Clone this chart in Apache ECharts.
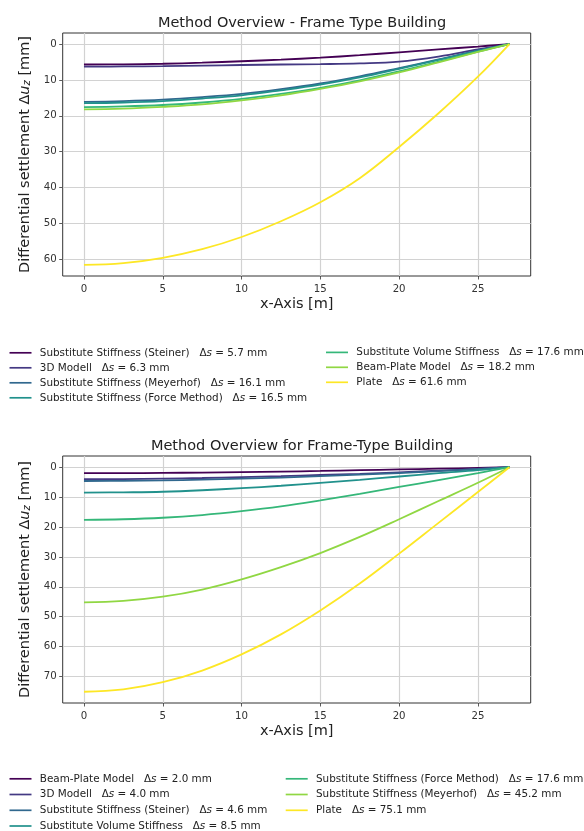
<!DOCTYPE html>
<html>
<head>
<meta charset="utf-8">
<script src="https://cdn.jsdelivr.net/npm/echarts@6/dist/echarts.min.js"></script>
<style>html,body{margin:0;padding:0;background:#fff}#c{width:584px;height:831px}</style>
</head>
<body>
<div id="c"></div>
<script>
// ---------- data ----------
const xs = [0, 2.5, 5, 7.5, 10, 12.5, 15, 17.5, 20, 22.5, 25, 27];
const xTicks = [0, 5, 10, 15, 20, 25];
const yTicksTop = [0, 10, 20, 30, 40, 50, 60];
const yTicksBottom = [0, 10, 20, 30, 40, 50, 60, 70];
const colors = ['#440154', '#443983', '#31688e', '#21918c', '#35b779', '#90d743', '#fde725'];

const titleTop = 'Method Overview - Frame Type Building';
const titleBottom = 'Method Overview for Frame-Type Building';

// top chart
const namesTop = ['Substitute Stiffness (Steiner)', '3D Modell', 'Substitute Stiffness (Meyerhof)',
  'Substitute Stiffness (Force Method)', 'Substitute Volume Stiffness', 'Beam-Plate Model', 'Plate'];
const deltaTop = ['5.7', '6.3', '16.1', '16.5', '17.6', '18.2', '61.6'];
const topSteiner  = [5.7, 5.65, 5.5, 5.2, 4.8, 4.35, 3.8, 3.1, 2.3, 1.5, 0.7, 0];
const top3D       = [6.3, 6.25, 6.15, 6.0, 5.85, 5.7, 5.6, 5.4, 4.9, 3.5, 1.5, 0];
const topMeyerhof = [16.1, 15.9, 15.5, 14.8, 13.9, 12.6, 11.0, 9.0, 6.7, 4.3, 1.8, 0];
const topForce    = [16.5, 16.3, 15.9, 15.2, 14.3, 12.9, 11.3, 9.3, 6.9, 4.4, 1.9, 0];
const topVolume   = [17.6, 17.4, 17.0, 16.3, 15.3, 13.9, 12.2, 10.1, 7.6, 4.9, 2.1, 0];
const topBeam     = [18.2, 18.0, 17.5, 16.8, 15.7, 14.3, 12.5, 10.4, 7.9, 5.1, 2.2, 0];
const topPlate    = [61.6, 61.1, 59.6, 57.2, 53.8, 49.4, 44.1, 37.4, 28.7, 19.3, 9.1, 0];

// bottom chart
const namesBottom = ['Beam-Plate Model', '3D Modell', 'Substitute Stiffness (Steiner)',
  'Substitute Volume Stiffness', 'Substitute Stiffness (Force Method)', 'Substitute Stiffness (Meyerhof)', 'Plate'];
const deltaBottom = ['2.0', '4.0', '4.6', '8.5', '17.6', '45.2', '75.1'];
const botBeam     = [2.0, 2.0, 1.9, 1.8, 1.65, 1.45, 1.25, 1.0, 0.75, 0.5, 0.25, 0];
const bot3D       = [4.0, 3.95, 3.8, 3.6, 3.3, 3.0, 2.6, 2.2, 1.7, 1.15, 0.55, 0];
const botSteiner  = [4.6, 4.55, 4.4, 4.15, 3.8, 3.45, 3.0, 2.5, 1.95, 1.3, 0.6, 0];
const botVolume   = [8.5, 8.4, 8.2, 7.7, 7.0, 6.2, 5.2, 4.2, 3.1, 2.0, 1.0, 0];
const botForce    = [17.6, 17.4, 16.9, 16.0, 14.7, 13.1, 11.1, 8.9, 6.6, 4.3, 2.0, 0];
const botMeyerhof = [45.2, 44.7, 43.3, 40.9, 37.5, 33.4, 28.7, 23.3, 17.4, 11.3, 5.2, 0];
const botPlate    = [75.1, 74.3, 71.9, 68.0, 62.6, 55.9, 47.9, 38.9, 28.9, 18.6, 8.3, 0];

const topSeriesData = [topSteiner, top3D, topMeyerhof, topForce, topVolume, topBeam, topPlate];
const botSeriesData = [botBeam, bot3D, botSteiner, botVolume, botForce, botMeyerhof, botPlate];

// ---------- chart ----------
const FONT = 'DejaVu Sans';
const TXT = '#222';
const chart = echarts.init(document.getElementById('c'), null, {renderer: 'canvas'});

function key(n, d) { return n + '|' + d; }
const keysTop = namesTop.map((n, i) => key(n, deltaTop[i]));
const keysBot = namesBottom.map((n, i) => key(n, deltaBottom[i]));

function xAxisCfg(gi) {
  return {
    type: 'value', gridIndex: gi, min: -1.35, max: 28.35, position: 'bottom',
    name: 'x-Axis [m]', nameLocation: 'middle', nameGap: 21,
    nameTextStyle: {fontFamily: FONT, fontSize: 14.5, color: TXT},
    axisLine: {show: false, onZero: false},
    axisTick: {show: true, length: 3.5, lineStyle: {color: '#333', width: 0.8}, customValues: xTicks},
    axisLabel: {fontFamily: FONT, fontSize: 10.2, color: '#333', margin: 8, customValues: xTicks},
    splitLine: {show: true, lineStyle: {color: '#d2d2d2', width: 1.2}}
  };
}
function yAxisCfg(gi, maxV, ticks) {
  const m = maxV * 0.05;
  return {
    type: 'value', gridIndex: gi, inverse: true, min: -m, max: maxV + m, position: 'left',
    name: 'Differential settlement {d|Δ}{i|u}{sub|z} [mm]',
    nameLocation: 'middle', nameRotate: 90, nameGap: 19,
    nameTextStyle: {fontFamily: FONT, fontSize: 14.5, color: TXT,
      rich: {
        d: {fontFamily: FONT, fontSize: 14.5, color: TXT},
        i: {fontFamily: FONT, fontSize: 14.5, color: TXT, fontStyle: 'italic'},
        sub: {fontFamily: FONT, fontSize: 10, color: TXT, fontStyle: 'italic', verticalAlign: 'bottom', padding: [6, 0, 0, 0]}
      }},
    axisLine: {show: false, onZero: false},
    axisTick: {show: true, length: 3.5, lineStyle: {color: '#333', width: 0.8}, customValues: ticks},
    axisLabel: {fontFamily: FONT, fontSize: 10.2, color: '#333', margin: 6, customValues: ticks},
    splitLine: {show: true, lineStyle: {color: '#d2d2d2', width: 1.2}}
  };
}

function legendItem(k, left, centerY) {
  return {
    orient: 'vertical', left: left, top: centerY - 6.5, data: [k], padding: 0,
    icon: 'rect', itemWidth: 22, itemHeight: 1.7, itemGap: 0,
    textStyle: {fontFamily: FONT, fontSize: 10.4, color: TXT, lineHeight: 14,
      rich: {i: {fontFamily: FONT, fontSize: 10.4, color: TXT, fontStyle: 'italic', lineHeight: 14}}},
    formatter: function (name) {
      const p = name.split('|');
      return ' ' + p[0] + '   Δ{i|s} = ' + p[1] + ' mm';
    },
    selectedMode: false
  };
}

const series = [];
function addSeries(arrs, keys, ai) {
  arrs.forEach((arr, i) => {
    series.push({
      type: 'line', name: keys[i], xAxisIndex: ai, yAxisIndex: ai,
      data: xs.map((x, j) => [x, arr[j]]), smooth: 0.4,
      showSymbol: false, symbol: 'none', color: colors[i],
      lineStyle: {width: 1.8, color: colors[i]}, itemStyle: {color: colors[i]}, animation: false
    });
  });
}
addSeries(topSeriesData, keysTop, 0);
addSeries(botSeriesData, keysBot, 1);

const legends = [];
const rowsTop1 = [352.3, 367.3, 382.3, 397.3];
const rowsTop2 = [351.9, 366.8, 381.8];
const rowsBot1 = [778.3, 794, 809.8, 825.5];
const rowsBot2 = [778.3, 794, 809.8];
keysTop.slice(0, 4).forEach((k, i) => legends.push(legendItem(k, 9.5, rowsTop1[i])));
keysTop.slice(4).forEach((k, i) => legends.push(legendItem(k, 326, rowsTop2[i])));
keysBot.slice(0, 4).forEach((k, i) => legends.push(legendItem(k, 9.5, rowsBot1[i])));
keysBot.slice(4).forEach((k, i) => legends.push(legendItem(k, 285.7, rowsBot2[i])));

chart.setOption({
  animation: false,
  backgroundColor: '#fff',
  title: [
    {text: titleTop, left: 297, top: 11, textAlign: 'center',
      textStyle: {fontFamily: FONT, fontSize: 14.5, fontWeight: 'normal', color: TXT}},
    {text: titleBottom, left: 297, top: 434, textAlign: 'center',
      textStyle: {fontFamily: FONT, fontSize: 14.5, fontWeight: 'normal', color: TXT}}
  ],
  grid: [
    {left: 62.7, width: 468, top: 33, height: 243, show: true, borderColor: '#333', borderWidth: 1, containLabel: false},
    {left: 62.7, width: 468, top: 456, height: 247, show: true, borderColor: '#333', borderWidth: 1, containLabel: false}
  ],
  xAxis: [xAxisCfg(0), xAxisCfg(1)],
  yAxis: [yAxisCfg(0, 61.6, yTicksTop), yAxisCfg(1, 75.1, yTicksBottom)],
  legend: legends,
  series: series
});
</script>
</body>
</html>
